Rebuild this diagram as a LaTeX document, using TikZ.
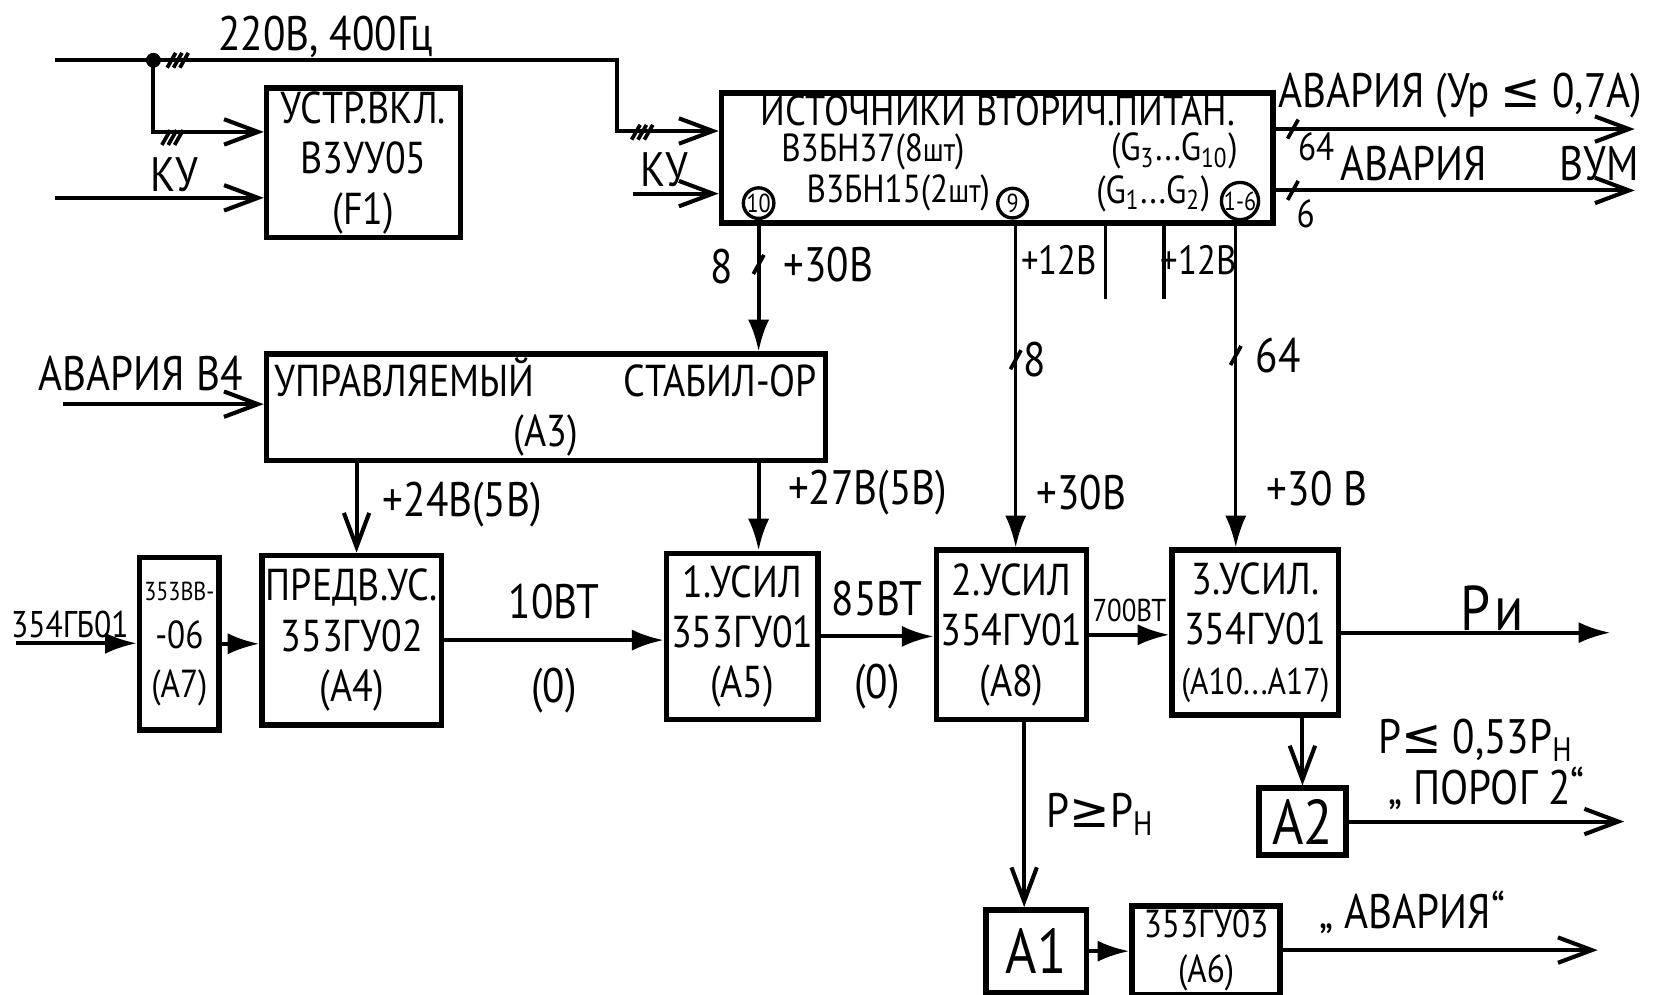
\documentclass[tikz,border=0pt]{standalone}
\usepackage{fontspec}
\setmainfont{PT Sans}[FakeStretch=0.85]
\newfontfamily\symf{DejaVu Sans}
\usetikzlibrary{arrows.meta, calc}
\tikzset{
  every picture/.style={line width=1.1pt},
  blk/.style={draw, line width=1.5pt, align=center, inner sep=1pt, font=\fontsize{12}{13.5}\selectfont},
  oarrow/.style={-{Straight Barb[length=3.2mm, width=2.4mm]}},
  farrow/.style={-{Latex[length=3mm, width=2mm]}},
  lbl/.style={inner sep=1pt, font=\fontsize{13}{14}\selectfont},
  txt/.style={inner sep=0pt, font=\fontsize{10.5}{11}\selectfont},
  ring/.style={circle, draw, line width=0.9pt, inner sep=0pt, minimum size=0.28cm, font=\fontsize{7}{7}\selectfont},
  busmark/.pic={\draw[line width=1pt] (-5,9) -- (5,-9);},
  triplemark/.pic={\foreach \d in {-6,0,6} \draw[line width=1pt] (\d-4,7) -- (\d+4,-7);},
}
\begin{document}
\begin{tikzpicture}[x=0.01cm, y=-0.01cm]
  \useasboundingbox (0,0) rectangle (1568,940);
  % blocks
  \node[blk, minimum width=1.83cm, minimum height=1.18cm] (f1) at (343.5,154) {УСТР.ВКЛ.\\В3УУ05\\(F1)};
  \node[blk, minimum width=5.21cm, minimum height=1.23cm] (ip) at (942.5,149.5) {};
  \node[blk, minimum width=5.28cm, minimum height=1.00cm] (a3) at (516,385) {УПРАВЛЯЕМЫЙ\hspace{2em}СТАБИЛ-ОР\\(А3)};
  \node[blk, minimum width=0.75cm, minimum height=1.63cm, font=\fontsize{10.5}{13}\selectfont] (a7) at (169.5,608.5) {{\fontsize{7}{8}\selectfont 353ВВ-}\\-06\\(А7)};
  \node[blk, minimum width=1.55cm, minimum height=1.60cm] (a4) at (332.5,605) {ПРЕДВ.УС.\\353ГУ02\\(А4)};
  \node[blk, minimum width=1.43cm, minimum height=1.57cm] (a5) at (701.5,601.5) {1.УСИЛ\\353ГУ01\\(А5)};
  \node[blk, minimum width=1.42cm, minimum height=1.60cm] (a8) at (956,600) {2.УСИЛ\\354ГУ01\\(А8)};
  \node[blk, minimum width=1.57cm, minimum height=1.56cm] (a10) at (1186.5,598) {3.УСИЛ.\\354ГУ01\\{\fontsize{10}{12}\selectfont (А10...А17)}};
  \node[blk, minimum width=0.82cm, minimum height=0.63cm, font=\fontsize{17}{17}\selectfont] (a2) at (1231,776.5) {А2};
  \node[blk, minimum width=0.95cm, minimum height=0.78cm, font=\fontsize{17}{17}\selectfont] (a1) at (979.5,899) {А1};
  \node[blk, minimum width=1.40cm, minimum height=0.80cm, font=\fontsize{10.5}{12}\selectfont] (a6) at (1140,898) {353ГУ03\\(А6)};
  % inside the power supply block
  \node[txt, font=\fontsize{11.5}{12}\selectfont] (iptitle) at (943,104) {ИСТОЧНИКИ ВТОРИЧ.ПИТАН.};
  \node[txt] (ipl2) at (825,144) {В3БН37(8{\small шт})};
  \node[txt] (ipl3) at (1110,143) {(G\textsubscript{3}...G\textsubscript{10})};
  \node[txt] (ipl4) at (849,182) {В3БН15(2{\small шт})};
  \node[txt] (ipl5) at (1090,183) {(G\textsubscript{1}...G\textsubscript{2})};
  \node[ring] (r10) at (717,192) {10};
  \node[ring] (r9) at (957,192) {9};
  \node[ring] (r16) at (1172,190) {1-6};

  % mains and control inputs
  \coordinate (pwin) at (52,57);
  \coordinate (pwturn) at (583,57);
  \coordinate (kuin) at (52,187);
  \coordinate (ku2in) at (598,183);
  \node[circle, fill, inner sep=0pt, minimum size=4pt] (jn) at (145,57) {};
  \draw[oarrow] (pwin) -- (pwturn) |- ($(ip.north west)!0.3!(ip.south west)$);
  \draw[oarrow] (jn.center) |- ($(f1.north west)!0.3!(f1.south west)$);
  \draw[oarrow] (kuin) -- (kuin -| f1.west);
  \draw[oarrow] (ku2in) -- (ku2in -| ip.west);
  \pic at (168,57) {triplemark};
  \pic at (163,130) {triplemark};
  \pic at (607,125) {triplemark};
  \node[lbl] (mains) at (308,35) {220В, 400Гц};
  \node[lbl] (ku1) at (165,165) {КУ};
  \node[lbl] (ku2) at (628,160) {КУ};

  % alarm outputs
  \coordinate (av1) at (1545,122);
  \coordinate (av2) at (1545,180);
  \draw[oarrow] (av1 -| ip.east) -- (av1);
  \draw[oarrow] (av2 -| ip.east) -- (av2);
  \pic at (1222,122) {busmark};
  \pic at (1222,180) {busmark};
  \node[txt] (n64a) at (1244,139) {64};
  \node[txt] (n6) at (1234,202) {6};
  \node[lbl] (avur) at (1380,90) {АВАРИЯ (Ур {\symf ≤} 0,7А)};
  \node[lbl] (avvum) at (1408,155) {АВАРИЯ\hspace{1.5em}ВУМ};

  % supply rails
  \coordinate (x30) at (717,0);
  \coordinate (x12a) at (960,0);
  \coordinate (x12b) at (1168,0);
  \coordinate (stA) at (1045,283);
  \coordinate (stB) at (1100,283);
  \draw[farrow] (ip.south -| x30) -- (a3.north -| x30);
  \pic at (717,250) {busmark};
  \node[lbl] (n8a) at (682,252) {8};
  \node[lbl] (p30a) at (783,250) {+30В};
  \draw[farrow, line width=0.9pt] (ip.south -| x12a) -- (a8.north -| x12a);
  \draw[farrow, line width=0.9pt] (ip.south -| x12b) -- (a10.north -| x12b);
  \draw[line width=0.9pt] (ip.south -| stA) -- (stA);
  \draw[line width=0.9pt] (ip.south -| stB) -- (stB);
  \node[txt, font=\fontsize{11}{12}\selectfont] (p12a) at (1001,246) {+12В};
  \node[txt, font=\fontsize{11}{12}\selectfont] (p12b) at (1133,246) {+12В};
  \pic at (960,340) {busmark};
  \pic at (1168,336) {busmark};
  \node[lbl] (n8b) at (978,340) {8};
  \node[lbl] (n64b) at (1208,336) {64};
  \node[lbl] (p30b) at (1022,466) {+30В};
  \node[lbl] (p30c) at (1245,462) {+30 В};

  % stabiliser
  \coordinate (avb4) at (60,382);
  \coordinate (x24) at (337,0);
  \draw[oarrow] (avb4) -- (avb4 -| a3.west);
  \node[lbl] (avb4l) at (133,353) {АВАРИЯ В4};
  \draw[oarrow] (a3.south -| x24) -- (a4.north -| x24);
  \draw[farrow] (a3.south -| x30) -- (a5.north -| x30);
  \node[lbl] (p24) at (437,477) {+24В(5В)};
  \node[lbl] (p27) at (820,466) {+27В(5В)};

  % amplifier chain
  \coordinate (gin) at (15,608);
  \coordinate (pout) at (1522,598);
  \draw[farrow] (gin) -- (gin -| a7.west);
  \node[txt, font=\fontsize{10}{11}\selectfont] (ginl) at (66,590) {354ГБ01};
  \draw[farrow] (a7.east) -- (a7.east -| a4.west);
  \draw[farrow] (a4.east) -- (a4.east -| a5.west)
    node[lbl, midway, above=4pt] {10ВТ} node[lbl, midway, below=6pt] {(0)};
  \draw[farrow] (a5.east) -- (a5.east -| a8.west)
    node[lbl, midway, above=4pt] {85ВТ} node[lbl, midway, below=6pt] {(0)};
  \draw[farrow] (a8.east) -- (a8.east -| a10.west)
    node[midway, above=3pt, inner sep=0pt, font=\fontsize{8.5}{9}\selectfont] {700ВТ};
  \draw[farrow] (a10.east) -- (pout);
  \node[lbl, font=\fontsize{17}{17}\selectfont] (pil) at (1410,575) {Р\kern1pt и};

  % threshold outputs
  \coordinate (xa1) at (968,0);
  \coordinate (por) at (1535,776.5);
  \coordinate (avout) at (1510,898);
  \draw[oarrow] (a10.south -| a2.north) -- (a2.north);
  \node[lbl] (thr2) at (1395,700) {Р{\symf ≤} 0,53Р\textsubscript{Н}};
  \draw[oarrow] (a2.east) -- (por);
  \node[lbl] (porl) at (1405,745) {„ ПОРОГ 2“};
  \draw[oarrow] (a8.south -| xa1) -- (a1.north -| xa1);
  \node[lbl] (thr1) at (1040,770) {Р{\symf ≥}Р\textsubscript{Н}};
  \draw[farrow] (a1.east) -- (a1.east -| a6.west);
  \draw[oarrow] (a6.east) -- (avout);
  \node[lbl] (avl) at (1335,862) {„ АВАРИЯ“};
\end{tikzpicture}
\end{document}
